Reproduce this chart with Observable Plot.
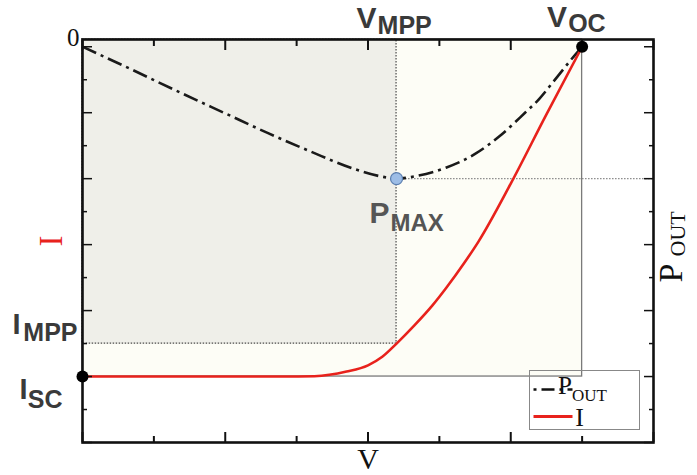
<!DOCTYPE html>
<html>
<head>
<meta charset="utf-8">
<script src="https://cdn.jsdelivr.net/npm/d3@7"></script>
<script src="https://cdn.jsdelivr.net/npm/@observablehq/plot@0.6"></script>
<style>
  html, body { margin: 0; padding: 0; background: #fff; }
  #chart { width: 697px; height: 475px; }
</style>
</head>
<body>
<div id="chart"></div>
<script>
// I–V curve of the cell: voltage samples and current (current drawn negative, 0 at top)
const ivVoltage = [0, 1, 2, 2.8, 3.25, 3.7, 4.0, 4.2, 4.4, 4.65, 4.9, 5.1, 5.35, 5.55, 6.0, 6.5, 7.0];
const ivCurrent = [-10, -10, -10, -10, -9.99, -9.85, -9.66, -9.4, -9.0, -8.45, -7.85, -7.3, -6.55, -5.9, -4.15, -2.05, 0];

// Output power curve, read on the right-hand axis
const powerVoltage = [0, 0.6, 1.4, 2.0, 2.6, 3.2, 3.8, 4.2, 4.4, 4.65, 5.1, 5.5, 5.85, 6.2, 6.4, 6.6, 6.85, 7.0];
const powerOut = [0, -0.6, -1.42, -2.02, -2.62, -3.18, -3.7, -3.94, -4.0, -3.93, -3.66, -3.25, -2.7, -2.0, -1.58, -1.05, -0.38, 0];

// Characteristic points
const V_MPP = 4.4;
const V_OC = 7;
const I_MPP = -9;
const I_SC = -10;
const P_MAX = -4;

// Axis extents and tick positions
const vDomain = [0, 8];
const iDomain = [-12, 0.22];
const vMajorTicks = [0, 2, 4, 6, 8];
const vMinorTicks = [1, 3, 5, 7];
const iMajorTicks = [0, -2, -4, -6, -8, -10, -12];
const iMinorTicks = [-1, -3, -5, -7, -9, -11];

const ivData = ivVoltage.map((v, k) => ({v, i: ivCurrent[k]}));
const powerData = powerVoltage.map((v, k) => ({v, p: powerOut[k]}));

const SANS = "'Liberation Sans', Arial, sans-serif";
const SERIF = "'Liberation Serif', 'Times New Roman', serif";
const RED = "#e8221c";
const INK = "#3a3a3a";

const W = 697, H = 475;
const M = {top: 39, right: 44, bottom: 33, left: 82};

// one text mark anchored on a data point
function label(x, y, text, o) {
  return Plot.text([{x, y, text}], {
    x: "x", y: "y", text: "text",
    fontFamily: o.font || SANS,
    fontWeight: o.weight || "bold",
    fontSize: o.size,
    fill: o.fill || INK,
    textAnchor: o.anchor || "start",
    lineAnchor: "bottom",
    dx: o.dx || 0,
    dy: o.dy || 0
  });
}

// inward ticks on all four sides, long at even values and short at odd ones
function ticks(axis, anchor, values, size, width) {
  return axis(values, {
    anchor, tickSize: -size, fill: "none", label: null,
    tickFormat: () => "", stroke: "#111", strokeWidth: width
  });
}

const iTop = iDomain[1];
const iBottom = iDomain[0];
const vRight = vDomain[1];
const vMid = (vDomain[0] + vDomain[1]) / 2;

const chart = Plot.plot({
  width: W,
  height: H,
  marginTop: M.top,
  marginRight: M.right,
  marginBottom: M.bottom,
  marginLeft: M.left,
  style: {background: "white", fontFamily: SANS},
  x: {domain: vDomain, label: null},
  y: {domain: iDomain, label: null},
  marks: [
    // operating region up to V_OC / I_SC
    Plot.rect([{x1: 0, x2: V_OC, y1: I_SC, y2: iTop}], {
      x1: "x1", x2: "x2", y1: "y1", y2: "y2",
      fill: "#fdfdf6", stroke: "#7a7a7a", strokeWidth: 1.3
    }),
    // maximum-power rectangle
    Plot.rect([{x1: 0, x2: V_MPP, y1: I_MPP, y2: iTop}], {
      x1: "x1", x2: "x2", y1: "y1", y2: "y2",
      fill: "#efefe9", stroke: "#4a4a4a", strokeWidth: 1.2, strokeDasharray: "1.5,1.5"
    }),
    // P_MAX level carried to the power axis
    Plot.ruleY([P_MAX], {x1: V_MPP, x2: vRight, stroke: "#8a8a8a", strokeWidth: 1.2, strokeDasharray: "1.5,1.5"}),
    // output power
    Plot.line(powerData, {
      x: "v", y: "p", curve: "monotone-x",
      stroke: "#1a1a1a", strokeWidth: 2.6, strokeLinecap: "butt",
      strokeDasharray: "15,5,3,5"
    }),
    // current
    Plot.line(ivData, {x: "v", y: "i", curve: "monotone-x", stroke: RED, strokeWidth: 2.6}),
    Plot.frame({stroke: "#111", strokeWidth: 2.6}),
    ticks(Plot.axisX, "bottom", vMajorTicks, 10, 2),
    ticks(Plot.axisX, "bottom", vMinorTicks, 6, 2),
    ticks(Plot.axisX, "top", vMajorTicks, 10, 2),
    ticks(Plot.axisX, "top", vMinorTicks, 6, 2),
    ticks(Plot.axisY, "left", iMajorTicks, 10, 1.5),
    ticks(Plot.axisY, "left", iMinorTicks, 5, 1.5),
    ticks(Plot.axisY, "right", iMajorTicks, 10, 1.5),
    ticks(Plot.axisY, "right", iMinorTicks, 5, 1.5),
    // characteristic points
    Plot.dot([{v: 0, i: I_SC}, {v: V_OC, i: 0}], {x: "v", y: "i", r: 6, fill: "#000"}),
    Plot.dot([{v: V_MPP, p: P_MAX}], {x: "v", y: "p", r: 6, fill: "#9dbde6", stroke: "#5b7fb0", strokeWidth: 1.2}),
    // point labels
    label(V_MPP, iTop, "V", {size: 30, anchor: "end", dx: -20, dy: -12}),
    label(V_MPP, iTop, "MPP", {size: 25, dx: -19, dy: -6}),
    label(V_OC, iTop, "V", {size: 30, anchor: "end", dx: -15, dy: -13}),
    label(V_OC, iTop, "OC", {size: 25, dx: -14, dy: -8}),
    label(V_MPP, P_MAX, "P", {size: 30, anchor: "end", dx: -7, dy: 44, fill: "#555"}),
    label(V_MPP, P_MAX, "MAX", {size: 24, dx: -6, dy: 52, fill: "#555"}),
    label(0, I_MPP, "I", {size: 29, anchor: "end", dx: -62, dy: -10}),
    label(0, I_MPP, "MPP", {size: 25, anchor: "end", dx: -5, dy: -3}),
    label(0, I_SC, "I", {size: 29, anchor: "end", dx: -55, dy: 22}),
    label(0, I_SC, "SC", {size: 25, anchor: "end", dx: -20, dy: 31}),
    label(0, 0, "0", {size: 25, font: SERIF, weight: "normal", anchor: "end", dx: -3, dy: -1, fill: "#111"}),
    // axis titles
    label(vMid, iBottom, "V", {size: 30, font: SERIF, weight: "normal", anchor: "middle", dy: 26, fill: "#111"}),
    Plot.text(["I"], {
      frameAnchor: "left", rotate: -90, text: d => d,
      fontFamily: SERIF, fontSize: 33, fill: RED,
      textAnchor: "middle", lineAnchor: "bottom", dx: -21
    }),
    Plot.text(["P"], {
      frameAnchor: "right", rotate: -90, text: d => d,
      fontFamily: SERIF, fontSize: 34, fill: "#111",
      textAnchor: "start", lineAnchor: "bottom", dx: 28, dy: 41.5
    }),
    Plot.text(["OUT"], {
      frameAnchor: "right", rotate: -90, text: d => d,
      fontFamily: SERIF, fontSize: 22, fill: "#111",
      textAnchor: "start", lineAnchor: "bottom", dx: 31, dy: 15.5
    })
  ]
});

// legend in the lower-right corner of the frame
const svg = d3.select(chart);
const lw = 110, lh = 59;
const lx = W - M.right - 14 - lw;
const ly = H - M.bottom - 13 - lh;
const lg = svg.append("g").attr("transform", `translate(${lx + 0.5},${ly + 0.5})`);
lg.append("rect").attr("width", lw).attr("height", lh)
  .attr("fill", "none").attr("stroke", "#888").attr("stroke-width", 1);
lg.append("line").attr("x1", 4).attr("x2", 43).attr("y1", 19).attr("y2", 19)
  .attr("stroke", "#111").attr("stroke-width", 2.6)
  .attr("stroke-dasharray", "13,5,3,5").attr("stroke-dashoffset", 18);
lg.append("line").attr("x1", 4).attr("x2", 43).attr("y1", 46).attr("y2", 46)
  .attr("stroke", RED).attr("stroke-width", 3);
const t1 = lg.append("text").attr("x", 53).attr("y", 23.5)
  .attr("font-family", SERIF).attr("font-size", 25).attr("fill", "#111");
t1.append("tspan").text("P");
t1.append("tspan").attr("font-size", 17).attr("dy", 7).text("OUT");
lg.append("text").attr("x", 50).attr("y", 55.5)
  .attr("font-family", SERIF).attr("font-size", 26).attr("fill", "#111").text("I");

document.getElementById("chart").append(chart);
</script>
</body>
</html>
